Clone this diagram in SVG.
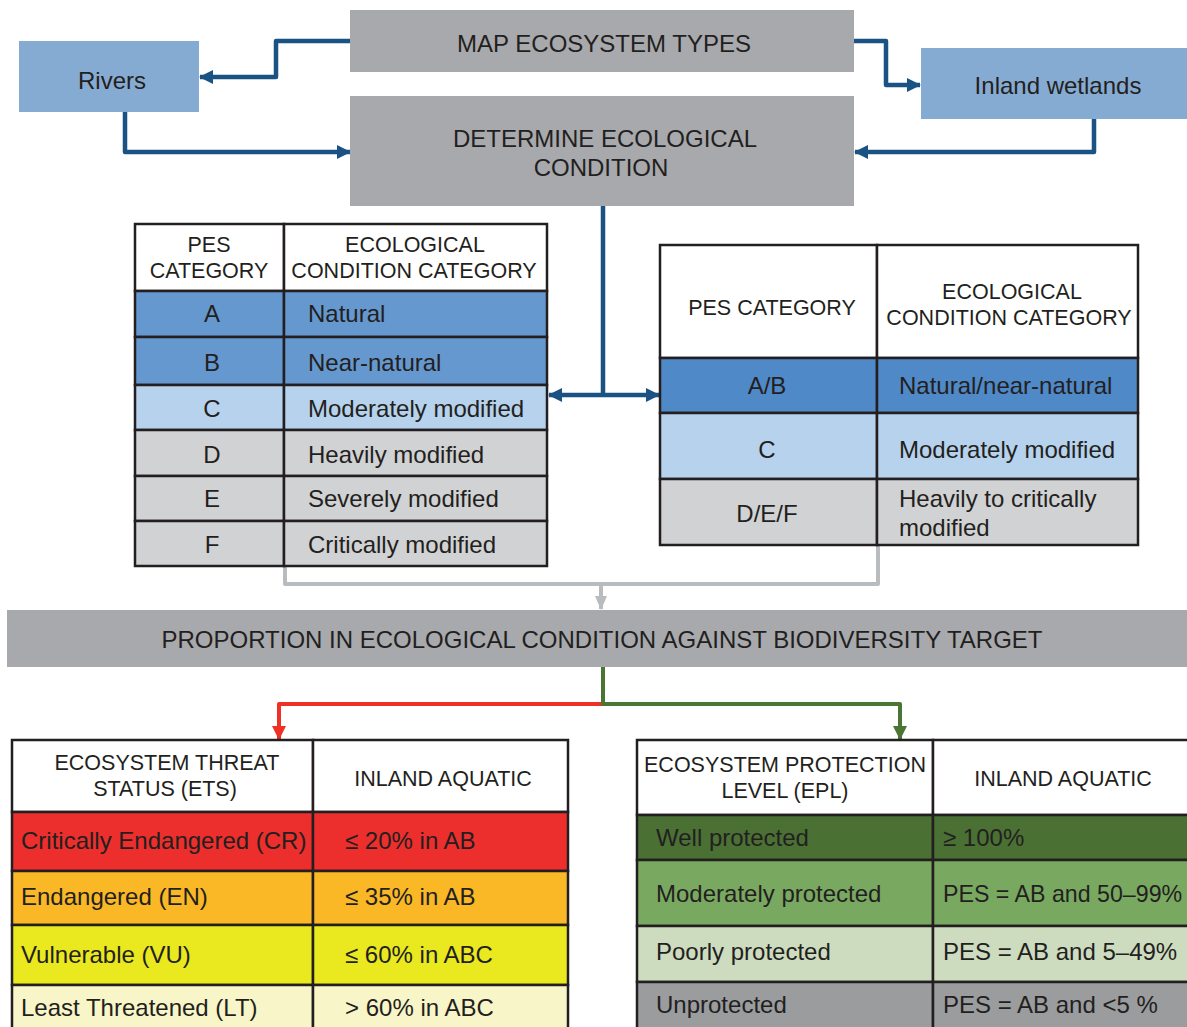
<svg xmlns="http://www.w3.org/2000/svg" width="1187" height="1027" viewBox="0 0 1187 1027">
<defs>
<style>
text{font-family:"Liberation Sans",Arial,sans-serif;fill:#231f20}
.t{font-size:24px}
.h{font-size:21.5px}
.m{text-anchor:middle}
.box{fill:#a7a9ac}
.eco{fill:#86abd3}
.cell{stroke:#231f20;stroke-width:2.5}
.blue{fill:none;stroke:#1b5284;stroke-width:4.5;stroke-linejoin:round}
.grey{fill:none;stroke:#b9bcbe;stroke-width:4;stroke-linejoin:round}
.red{fill:none;stroke:#ee3124;stroke-width:4;stroke-linejoin:round}
.green{fill:none;stroke:#4a7532;stroke-width:4;stroke-linejoin:round}
</style>
<marker id="ab" markerUnits="userSpaceOnUse" markerWidth="14" markerHeight="14" refX="13" refY="7" orient="auto-start-reverse"><path d="M0,0 L14,7 L0,14 z" fill="#1b5284"/></marker>
<marker id="ag" markerUnits="userSpaceOnUse" markerWidth="14" markerHeight="14" refX="13" refY="7" orient="auto"><path d="M0,1 L14,7 L0,13 z" fill="#b9bcbe"/></marker>
<marker id="ar" markerUnits="userSpaceOnUse" markerWidth="14" markerHeight="14" refX="13" refY="7" orient="auto"><path d="M0,0 L14,7 L0,14 z" fill="#ee3124"/></marker>
<marker id="agr" markerUnits="userSpaceOnUse" markerWidth="14" markerHeight="14" refX="13" refY="7" orient="auto"><path d="M0,0 L14,7 L0,14 z" fill="#4a7532"/></marker>
</defs>
<rect width="1187" height="1027" fill="#ffffff"/>

<g id="connectors">
<path class="blue" d="M351,41 H276 V77 H200" marker-end="url(#ab)"/>
<path class="blue" d="M125,112 V152 H350" marker-end="url(#ab)"/>
<path class="blue" d="M854,41 H886 V85 H920" marker-end="url(#ab)"/>
<path class="blue" d="M1094,119 V152 H855" marker-end="url(#ab)"/>
<path class="blue" d="M603,206 V395"/>
<path class="blue" d="M549,395 H659" marker-start="url(#ab)" marker-end="url(#ab)"/>
<path class="grey" d="M285,567 V584 H878 V546"/>
<path class="grey" d="M601,584 V609" marker-end="url(#ag)"/>
<path class="red" d="M603,704 H279 V739" marker-end="url(#ar)"/>
<path class="green" d="M603,667 V704 H900 V739" marker-end="url(#agr)"/>
</g>

<g id="map-ecosystem-types">
<rect class="box" x="350" y="10" width="504" height="62"/>
<text class="t m" x="604" y="52">MAP ECOSYSTEM TYPES</text>
</g>
<g id="rivers">
<rect class="eco" x="19" y="41" width="180" height="71"/>
<text class="t m" x="112" y="89">Rivers</text>
</g>
<g id="inland-wetlands">
<rect class="eco" x="921" y="48" width="266" height="71"/>
<text class="t m" x="1058" y="94">Inland wetlands</text>
</g>
<g id="determine-condition">
<rect class="box" x="350" y="96" width="504" height="110"/>
<text class="t m" x="605" y="147">DETERMINE ECOLOGICAL</text>
<text class="t m" x="601" y="176">CONDITION</text>
</g>

<g id="pes-table-left">
<rect class="cell" x="135" y="224" width="149" height="67" fill="#ffffff"/>
<rect class="cell" x="284" y="224" width="263" height="67" fill="#ffffff"/>
<rect class="cell" x="135" y="291" width="149" height="46" fill="#6698d0"/>
<rect class="cell" x="284" y="291" width="263" height="46" fill="#6698d0"/>
<rect class="cell" x="135" y="337" width="149" height="48" fill="#6698d0"/>
<rect class="cell" x="284" y="337" width="263" height="48" fill="#6698d0"/>
<rect class="cell" x="135" y="385" width="149" height="45" fill="#b6d2ec"/>
<rect class="cell" x="284" y="385" width="263" height="45" fill="#b6d2ec"/>
<rect class="cell" x="135" y="430" width="149" height="46" fill="#d1d2d3"/>
<rect class="cell" x="284" y="430" width="263" height="46" fill="#d1d2d3"/>
<rect class="cell" x="135" y="476" width="149" height="45" fill="#d1d2d3"/>
<rect class="cell" x="284" y="476" width="263" height="45" fill="#d1d2d3"/>
<rect class="cell" x="135" y="521" width="149" height="45" fill="#d1d2d3"/>
<rect class="cell" x="284" y="521" width="263" height="45" fill="#d1d2d3"/>
<text class="h m" x="209" y="252">PES</text>
<text class="h m" x="209" y="278">CATEGORY</text>
<text class="h m" x="415" y="252">ECOLOGICAL</text>
<text class="h m" x="414" y="278">CONDITION CATEGORY</text>
<text class="t m" x="212" y="322">A</text><text class="t" x="308" y="322">Natural</text>
<text class="t m" x="212" y="371">B</text><text class="t" x="308" y="371">Near-natural</text>
<text class="t m" x="212" y="417">C</text><text class="t" x="308" y="417">Moderately modified</text>
<text class="t m" x="212" y="463">D</text><text class="t" x="308" y="463">Heavily modified</text>
<text class="t m" x="212" y="507">E</text><text class="t" x="308" y="507">Severely modified</text>
<text class="t m" x="212" y="553">F</text><text class="t" x="308" y="553">Critically modified</text>
</g>

<g id="pes-table-right">
<rect class="cell" x="660" y="245" width="217" height="113" fill="#ffffff"/>
<rect class="cell" x="877" y="245" width="261" height="113" fill="#ffffff"/>
<rect class="cell" x="660" y="358" width="217" height="55" fill="#4f89c8"/>
<rect class="cell" x="877" y="358" width="261" height="55" fill="#4f89c8"/>
<rect class="cell" x="660" y="413" width="217" height="66" fill="#b6d2ec"/>
<rect class="cell" x="877" y="413" width="261" height="66" fill="#b6d2ec"/>
<rect class="cell" x="660" y="479" width="217" height="66" fill="#d1d2d3"/>
<rect class="cell" x="877" y="479" width="261" height="66" fill="#d1d2d3"/>
<text class="h m" x="772" y="315">PES CATEGORY</text>
<text class="h m" x="1012" y="299">ECOLOGICAL</text>
<text class="h m" x="1009" y="325">CONDITION CATEGORY</text>
<text class="t m" x="767" y="394">A/B</text><text class="t" x="899" y="394">Natural/near-natural</text>
<text class="t m" x="767" y="458">C</text><text class="t" x="899" y="458">Moderately modified</text>
<text class="t m" x="767" y="522">D/E/F</text>
<text class="t" x="899" y="507">Heavily to critically</text>
<text class="t" x="899" y="536">modified</text>
</g>

<g id="proportion">
<rect class="box" x="7" y="610" width="1185" height="57"/>
<text class="t m" x="602" y="648">PROPORTION IN ECOLOGICAL CONDITION AGAINST BIODIVERSITY TARGET</text>
</g>

<g id="ets-table">
<rect class="cell" x="12" y="740" width="301" height="72" fill="#ffffff"/>
<rect class="cell" x="313" y="740" width="255" height="72" fill="#ffffff"/>
<rect class="cell" x="12" y="812" width="301" height="59" fill="#ec2f2c"/>
<rect class="cell" x="313" y="812" width="255" height="59" fill="#ec2f2c"/>
<rect class="cell" x="12" y="871" width="301" height="54" fill="#fbb826"/>
<rect class="cell" x="313" y="871" width="255" height="54" fill="#fbb826"/>
<rect class="cell" x="12" y="925" width="301" height="60" fill="#eae81e"/>
<rect class="cell" x="313" y="925" width="255" height="60" fill="#eae81e"/>
<rect class="cell" x="12" y="985" width="301" height="60" fill="#f8f6c8"/>
<rect class="cell" x="313" y="985" width="255" height="60" fill="#f8f6c8"/>
<text class="h m" x="167" y="770">ECOSYSTEM THREAT</text>
<text class="h m" x="165" y="796">STATUS (ETS)</text>
<text class="h m" x="443" y="786">INLAND AQUATIC</text>
<text class="t" x="21" y="849">Critically Endangered (CR)</text><text class="t" x="345" y="849">≤ 20% in AB</text>
<text class="t" x="21" y="905">Endangered (EN)</text><text class="t" x="345" y="905">≤ 35% in AB</text>
<text class="t" x="21" y="963">Vulnerable (VU)</text><text class="t" x="345" y="963">≤ 60% in ABC</text>
<text class="t" x="21" y="1016">Least Threatened (LT)</text><text class="t" x="345" y="1016">&gt; 60% in ABC</text>
</g>

<g id="epl-table">
<rect class="cell" x="637" y="740" width="296" height="75" fill="#ffffff"/>
<rect class="cell" x="933" y="740" width="262" height="75" fill="#ffffff"/>
<rect class="cell" x="637" y="815" width="296" height="45" fill="#4a7034"/>
<rect class="cell" x="933" y="815" width="262" height="45" fill="#4a7034"/>
<rect class="cell" x="637" y="860" width="296" height="66" fill="#79a860"/>
<rect class="cell" x="933" y="860" width="262" height="66" fill="#79a860"/>
<rect class="cell" x="637" y="926" width="296" height="56" fill="#cddbbf"/>
<rect class="cell" x="933" y="926" width="262" height="56" fill="#cddbbf"/>
<rect class="cell" x="637" y="982" width="296" height="60" fill="#9a9c9e"/>
<rect class="cell" x="933" y="982" width="262" height="60" fill="#9a9c9e"/>
<text class="h m" x="785" y="772">ECOSYSTEM PROTECTION</text>
<text class="h m" x="785" y="798">LEVEL (EPL)</text>
<text class="h m" x="1063" y="786">INLAND AQUATIC</text>
<text class="t" x="656" y="846">Well protected</text><text class="t" x="943" y="846">≥ 100%</text>
<text class="t" x="656" y="902">Moderately protected</text><text class="t" x="943" y="902" style="font-size:23.2px">PES = AB and 50–99%</text>
<text class="t" x="656" y="960">Poorly protected</text><text class="t" x="943" y="960">PES = AB and 5–49%</text>
<text class="t" x="656" y="1013">Unprotected</text><text class="t" x="943" y="1013">PES = AB and &lt;5 %</text>
</g>
</svg>
